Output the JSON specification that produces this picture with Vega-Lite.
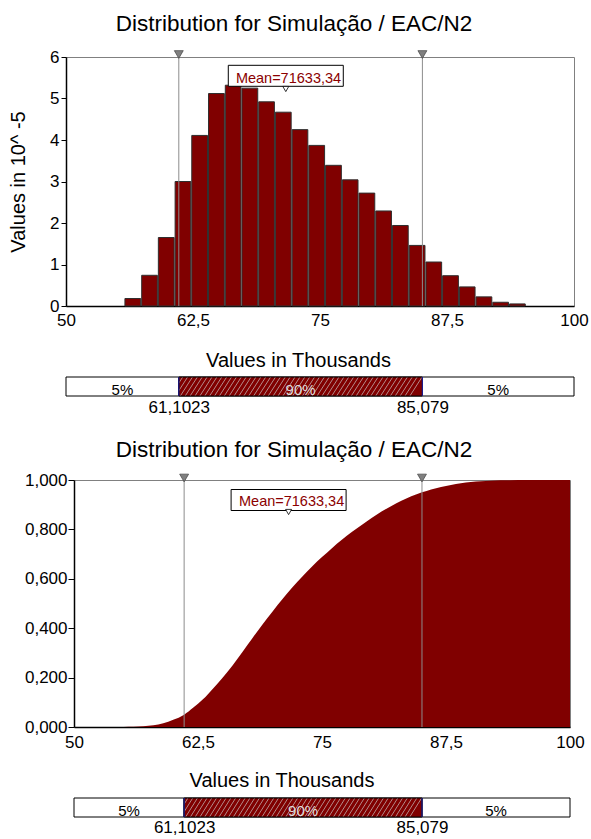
{
  "$schema": "https://vega.github.io/schema/vega-lite/v6.json",
  "background": "white",
  "padding": {"left": 7, "top": 12, "right": 0, "bottom": 0},
  "config": {
    "font": "Liberation Sans",
    "view": {"stroke": "#808080", "strokeWidth": 1},
    "axis": {"grid": false, "labelColor": "#000000", "titleColor": "#000000", "titleFontWeight": "normal", "domainColor": "#000000", "tickColor": "#000000", "labelFont": "Liberation Sans", "titleFont": "Liberation Sans"},
    "title": {"font": "Liberation Sans", "fontWeight": "normal", "color": "#000000", "fontSize": 22.5}
  },
  "datasets": {
    "hist": [
      {"start": 55.80, "end": 57.45, "density": 0.18},
      {"start": 57.45, "end": 59.09, "density": 0.74},
      {"start": 59.09, "end": 60.74, "density": 1.65},
      {"start": 60.74, "end": 62.38, "density": 3.00},
      {"start": 62.38, "end": 64.03, "density": 4.11},
      {"start": 64.03, "end": 65.68, "density": 5.12},
      {"start": 65.68, "end": 67.32, "density": 5.32},
      {"start": 67.32, "end": 68.97, "density": 5.25},
      {"start": 68.97, "end": 70.61, "density": 4.92},
      {"start": 70.61, "end": 72.26, "density": 4.67},
      {"start": 72.26, "end": 73.90, "density": 4.25},
      {"start": 73.90, "end": 75.55, "density": 3.87},
      {"start": 75.55, "end": 77.20, "density": 3.39},
      {"start": 77.20, "end": 78.84, "density": 3.04},
      {"start": 78.84, "end": 80.49, "density": 2.72},
      {"start": 80.49, "end": 82.13, "density": 2.29},
      {"start": 82.13, "end": 83.78, "density": 1.94},
      {"start": 83.78, "end": 85.43, "density": 1.46},
      {"start": 85.43, "end": 87.07, "density": 1.06},
      {"start": 87.07, "end": 88.72, "density": 0.73},
      {"start": 88.72, "end": 90.36, "density": 0.46},
      {"start": 90.36, "end": 92.01, "density": 0.22},
      {"start": 92.01, "end": 93.65, "density": 0.09},
      {"start": 93.65, "end": 95.30, "density": 0.05}
    ],
    "cdf": [
      {"v": 54.0, "p": 0}, {"v": 55, "p": 0.0005}, {"v": 56, "p": 0.001}, {"v": 57, "p": 0.003},
      {"v": 58, "p": 0.007}, {"v": 59, "p": 0.015}, {"v": 60, "p": 0.029}, {"v": 61.1, "p": 0.05},
      {"v": 62, "p": 0.078}, {"v": 63, "p": 0.112}, {"v": 64, "p": 0.155}, {"v": 65, "p": 0.2},
      {"v": 66, "p": 0.25}, {"v": 67, "p": 0.305}, {"v": 68, "p": 0.36}, {"v": 69, "p": 0.415},
      {"v": 70, "p": 0.467}, {"v": 71, "p": 0.517}, {"v": 72, "p": 0.565}, {"v": 73, "p": 0.608},
      {"v": 74, "p": 0.65}, {"v": 75, "p": 0.688}, {"v": 76, "p": 0.724}, {"v": 77, "p": 0.758},
      {"v": 78, "p": 0.789}, {"v": 79, "p": 0.818}, {"v": 80, "p": 0.846}, {"v": 81, "p": 0.872},
      {"v": 82, "p": 0.895}, {"v": 83, "p": 0.916}, {"v": 84, "p": 0.934}, {"v": 85.08, "p": 0.95},
      {"v": 86, "p": 0.962}, {"v": 87, "p": 0.972}, {"v": 88, "p": 0.98}, {"v": 89, "p": 0.987},
      {"v": 90, "p": 0.992}, {"v": 91, "p": 0.995}, {"v": 92, "p": 0.997}, {"v": 93, "p": 0.9985},
      {"v": 94, "p": 0.9993}, {"v": 95.5, "p": 1}, {"v": 100, "p": 1}
    ],
    "markers": [{"value": 61.1023}, {"value": 85.079}],
    "mean": [{"value": 71.63334, "label": "Mean=71633,34"}],
    "pct": [
      {"start": 50, "end": 61.1023, "label": "5%", "part": "low"},
      {"start": 61.1023, "end": 85.079, "label": "90%", "part": "mid"},
      {"start": 85.079, "end": 100, "label": "5%", "part": "high"}
    ]
  },
  "spacing": 23,
  "vconcat": [
    {
      "spacing": 5,
      "vconcat": [
        {
          "width": 508,
          "height": 249,
          "title": {"text": "Distribution for Simulação / EAC/N2", "anchor": "middle", "frame": "group", "dx": -26, "baseline": "alphabetic", "offset": -5},
          "layer": [
            {
              "data": {"name": "hist"},
              "mark": {"type": "rect", "fill": "#800000", "stroke": "#2e2e2e", "strokeWidth": 1, "x2Offset": -1},
              "encoding": {
                "x": {"field": "start", "type": "quantitative", "scale": {"domain": [50, 100], "nice": false, "zero": false},
                  "axis": {"values": [50, 62.5, 75, 87.5, 100], "labelExpr": "replace(toString(datum.value), '.', ',')", "labelFontSize": 17, "labelPadding": 6, "ticks": false, "tickSize": 0, "labelFlush": false, "labelOverlap": false, "domainWidth": 1.5, "title": "Values in Thousands", "titleFontSize": 20, "titleX": 232, "titleY": 60, "titleAlign": "center", "titleBaseline": "alphabetic"}},
                "x2": {"field": "end"},
                "y": {"field": "density", "type": "quantitative", "scale": {"domain": [0, 6], "nice": false},
                  "axis": {"values": [0, 1, 2, 3, 4, 5, 6], "format": "d", "labelFontSize": 17, "labelPadding": 2, "tickSize": 5, "domainWidth": 1.5, "minExtent": 20, "maxExtent": 20, "title": "Values in 10^ -5", "titleFontSize": 20, "titlePadding": 18}},
                "y2": {"datum": 0}
              }
            },
            {
              "data": {"name": "markers"},
              "mark": {"type": "rule", "color": "#8c8c8c", "strokeWidth": 1},
              "encoding": {"x": {"field": "value", "type": "quantitative"}}
            },
            {
              "data": {"name": "markers"},
              "mark": {"type": "point", "shape": "triangle-down", "filled": true, "fill": "#808080", "stroke": "#404040", "strokeWidth": 0.7, "size": 80, "opacity": 1, "yOffset": -2.5},
              "encoding": {"x": {"field": "value", "type": "quantitative"}, "y": {"datum": 6}}
            },
            {
              "data": {"name": "mean"},
              "mark": {"type": "point", "shape": "M-1,-0.1826H1V0.1826H-1Z", "size": 13225, "filled": true, "fill": "#ffffff", "stroke": "#000000", "strokeWidth": 1, "opacity": 1, "yOffset": 18.8},
              "encoding": {"x": {"field": "value", "type": "quantitative"}, "y": {"datum": 6}}
            },
            {
              "data": {"name": "mean"},
              "mark": {"type": "text", "font": "Liberation Sans", "fontSize": 14.5, "color": "#8b0000", "align": "center", "baseline": "alphabetic", "dx": 2.7, "yOffset": 25.5},
              "encoding": {"x": {"field": "value", "type": "quantitative"}, "y": {"datum": 6}, "text": {"field": "label"}}
            },
            {
              "data": {"name": "mean"},
              "mark": {"type": "point", "shape": "triangle-down", "filled": true, "fill": "#ffffff", "stroke": "#000000", "strokeWidth": 0.8, "size": 36, "opacity": 1, "yOffset": 32},
              "encoding": {"x": {"field": "value", "type": "quantitative"}, "y": {"datum": 6}}
            }
          ]
        },
        {
          "width": 508,
          "height": 19,
          "view": {"stroke": null},
          "data": {"name": "pct"},
          "layer": [
            {
              "mark": {"type": "rect", "fill": "#ffffff", "stroke": "#000000", "strokeWidth": 1},
              "encoding": {
                "x": {"field": "start", "type": "quantitative", "scale": {"domain": [50, 100], "nice": false, "zero": false},
                  "axis": {"values": [61.1023, 85.079], "labelExpr": "replace(toString(datum.value), '.', ',')", "labelFontSize": 17, "labelPadding": 3, "ticks": false, "tickSize": 0, "domain": false, "labelFlush": false, "labelOverlap": false, "title": null}},
                "x2": {"field": "end"}
              }
            },
            {
              "transform": [{"filter": "datum.part == 'mid'"}],
              "mark": {"type": "rect", "stroke": "#000000", "strokeWidth": 1, "fill": {"gradient": "linear", "x1": 0, "y1": 0, "x2": 1, "y2": 0.05, "stops": [
                {"offset": 0, "color": "#800000"}, {"offset": 0.012, "color": "#800000"}, {"offset": 0.016, "color": "#b48c8c"},
                {"offset": 0.02, "color": "#800000"}, {"offset": 0.032, "color": "#800000"}, {"offset": 0.036, "color": "#b48c8c"},
                {"offset": 0.04, "color": "#800000"}, {"offset": 0.052, "color": "#800000"}, {"offset": 0.056, "color": "#b48c8c"},
                {"offset": 0.06, "color": "#800000"}, {"offset": 0.072, "color": "#800000"}, {"offset": 0.076, "color": "#b48c8c"},
                {"offset": 0.08, "color": "#800000"}, {"offset": 0.092, "color": "#800000"}, {"offset": 0.096, "color": "#b48c8c"},
                {"offset": 0.1, "color": "#800000"}, {"offset": 0.112, "color": "#800000"}, {"offset": 0.116, "color": "#b48c8c"},
                {"offset": 0.12, "color": "#800000"}, {"offset": 0.132, "color": "#800000"}, {"offset": 0.136, "color": "#b48c8c"},
                {"offset": 0.14, "color": "#800000"}, {"offset": 0.152, "color": "#800000"}, {"offset": 0.156, "color": "#b48c8c"},
                {"offset": 0.16, "color": "#800000"}, {"offset": 0.172, "color": "#800000"}, {"offset": 0.176, "color": "#b48c8c"},
                {"offset": 0.18, "color": "#800000"}, {"offset": 0.192, "color": "#800000"}, {"offset": 0.196, "color": "#b48c8c"},
                {"offset": 0.2, "color": "#800000"}, {"offset": 0.212, "color": "#800000"}, {"offset": 0.216, "color": "#b48c8c"},
                {"offset": 0.22, "color": "#800000"}, {"offset": 0.232, "color": "#800000"}, {"offset": 0.236, "color": "#b48c8c"},
                {"offset": 0.24, "color": "#800000"}, {"offset": 0.252, "color": "#800000"}, {"offset": 0.256, "color": "#b48c8c"},
                {"offset": 0.26, "color": "#800000"}, {"offset": 0.272, "color": "#800000"}, {"offset": 0.276, "color": "#b48c8c"},
                {"offset": 0.28, "color": "#800000"}, {"offset": 0.292, "color": "#800000"}, {"offset": 0.296, "color": "#b48c8c"},
                {"offset": 0.3, "color": "#800000"}, {"offset": 0.312, "color": "#800000"}, {"offset": 0.316, "color": "#b48c8c"},
                {"offset": 0.32, "color": "#800000"}, {"offset": 0.332, "color": "#800000"}, {"offset": 0.336, "color": "#b48c8c"},
                {"offset": 0.34, "color": "#800000"}, {"offset": 0.352, "color": "#800000"}, {"offset": 0.356, "color": "#b48c8c"},
                {"offset": 0.36, "color": "#800000"}, {"offset": 0.372, "color": "#800000"}, {"offset": 0.376, "color": "#b48c8c"},
                {"offset": 0.38, "color": "#800000"}, {"offset": 0.392, "color": "#800000"}, {"offset": 0.396, "color": "#b48c8c"},
                {"offset": 0.4, "color": "#800000"}, {"offset": 0.412, "color": "#800000"}, {"offset": 0.416, "color": "#b48c8c"},
                {"offset": 0.42, "color": "#800000"}, {"offset": 0.432, "color": "#800000"}, {"offset": 0.436, "color": "#b48c8c"},
                {"offset": 0.44, "color": "#800000"}, {"offset": 0.452, "color": "#800000"}, {"offset": 0.456, "color": "#b48c8c"},
                {"offset": 0.46, "color": "#800000"}, {"offset": 0.472, "color": "#800000"}, {"offset": 0.476, "color": "#b48c8c"},
                {"offset": 0.48, "color": "#800000"}, {"offset": 0.492, "color": "#800000"}, {"offset": 0.496, "color": "#b48c8c"},
                {"offset": 0.5, "color": "#800000"}, {"offset": 0.512, "color": "#800000"}, {"offset": 0.516, "color": "#b48c8c"},
                {"offset": 0.52, "color": "#800000"}, {"offset": 0.532, "color": "#800000"}, {"offset": 0.536, "color": "#b48c8c"},
                {"offset": 0.54, "color": "#800000"}, {"offset": 0.552, "color": "#800000"}, {"offset": 0.556, "color": "#b48c8c"},
                {"offset": 0.56, "color": "#800000"}, {"offset": 0.572, "color": "#800000"}, {"offset": 0.576, "color": "#b48c8c"},
                {"offset": 0.58, "color": "#800000"}, {"offset": 0.592, "color": "#800000"}, {"offset": 0.596, "color": "#b48c8c"},
                {"offset": 0.6, "color": "#800000"}, {"offset": 0.612, "color": "#800000"}, {"offset": 0.616, "color": "#b48c8c"},
                {"offset": 0.62, "color": "#800000"}, {"offset": 0.632, "color": "#800000"}, {"offset": 0.636, "color": "#b48c8c"},
                {"offset": 0.64, "color": "#800000"}, {"offset": 0.652, "color": "#800000"}, {"offset": 0.656, "color": "#b48c8c"},
                {"offset": 0.66, "color": "#800000"}, {"offset": 0.672, "color": "#800000"}, {"offset": 0.676, "color": "#b48c8c"},
                {"offset": 0.68, "color": "#800000"}, {"offset": 0.692, "color": "#800000"}, {"offset": 0.696, "color": "#b48c8c"},
                {"offset": 0.7, "color": "#800000"}, {"offset": 0.712, "color": "#800000"}, {"offset": 0.716, "color": "#b48c8c"},
                {"offset": 0.72, "color": "#800000"}, {"offset": 0.732, "color": "#800000"}, {"offset": 0.736, "color": "#b48c8c"},
                {"offset": 0.74, "color": "#800000"}, {"offset": 0.752, "color": "#800000"}, {"offset": 0.756, "color": "#b48c8c"},
                {"offset": 0.76, "color": "#800000"}, {"offset": 0.772, "color": "#800000"}, {"offset": 0.776, "color": "#b48c8c"},
                {"offset": 0.78, "color": "#800000"}, {"offset": 0.792, "color": "#800000"}, {"offset": 0.796, "color": "#b48c8c"},
                {"offset": 0.8, "color": "#800000"}, {"offset": 0.812, "color": "#800000"}, {"offset": 0.816, "color": "#b48c8c"},
                {"offset": 0.82, "color": "#800000"}, {"offset": 0.832, "color": "#800000"}, {"offset": 0.836, "color": "#b48c8c"},
                {"offset": 0.84, "color": "#800000"}, {"offset": 0.852, "color": "#800000"}, {"offset": 0.856, "color": "#b48c8c"},
                {"offset": 0.86, "color": "#800000"}, {"offset": 0.872, "color": "#800000"}, {"offset": 0.876, "color": "#b48c8c"},
                {"offset": 0.88, "color": "#800000"}, {"offset": 0.892, "color": "#800000"}, {"offset": 0.896, "color": "#b48c8c"},
                {"offset": 0.9, "color": "#800000"}, {"offset": 0.912, "color": "#800000"}, {"offset": 0.916, "color": "#b48c8c"},
                {"offset": 0.92, "color": "#800000"}, {"offset": 0.932, "color": "#800000"}, {"offset": 0.936, "color": "#b48c8c"},
                {"offset": 0.94, "color": "#800000"}, {"offset": 0.952, "color": "#800000"}, {"offset": 0.956, "color": "#b48c8c"},
                {"offset": 0.96, "color": "#800000"}, {"offset": 0.972, "color": "#800000"}, {"offset": 0.976, "color": "#b48c8c"},
                {"offset": 0.98, "color": "#800000"}, {"offset": 0.992, "color": "#800000"}, {"offset": 0.996, "color": "#b48c8c"},
                {"offset": 1, "color": "#800000"}
              ]}},
              "encoding": {"x": {"field": "start", "type": "quantitative"}, "x2": {"field": "end"}}
            },
            {
              "data": {"name": "markers"},
              "mark": {"type": "rule", "color": "#1a1a8c", "strokeWidth": 1.2},
              "encoding": {"x": {"field": "value", "type": "quantitative"}}
            },
            {
              "transform": [{"calculate": "(datum.start + datum.end) / 2", "as": "mid"}],
              "mark": {"type": "text", "fontSize": 15, "baseline": "middle", "dy": 3},
              "encoding": {
                "x": {"field": "mid", "type": "quantitative"},
                "text": {"field": "label"},
                "color": {"field": "part", "type": "nominal", "scale": {"domain": ["low", "mid", "high"], "range": ["#000000", "#dddddd", "#000000"]}, "legend": null}
              }
            }
          ]
        }
      ]
    },
    {
      "spacing": 7,
      "bounds": "flush",
      "hconcat": [
        {
          "width": 1,
          "height": 1,
          "view": {"stroke": null},
          "data": {"values": [{"a": 0}]},
          "mark": {"type": "point", "opacity": 0}
        },
        {
          "spacing": 6,
          "vconcat": [
            {
              "width": 496,
              "height": 247,
              "title": {"text": "Distribution for Simulação / EAC/N2", "anchor": "middle", "frame": "group", "dx": -28, "baseline": "alphabetic", "offset": -8},
              "layer": [
                {
                  "data": {"name": "cdf"},
                  "mark": {"type": "area", "fill": "#800000", "interpolate": "monotone"},
                  "encoding": {
                    "x": {"field": "v", "type": "quantitative", "scale": {"domain": [50, 100], "nice": false, "zero": false},
                      "axis": {"values": [50, 62.5, 75, 87.5, 100], "labelExpr": "replace(toString(datum.value), '.', ',')", "labelFontSize": 17, "labelPadding": 7.5, "ticks": false, "tickSize": 0, "labelFlush": false, "labelOverlap": false, "domainWidth": 1.5, "title": "Values in Thousands", "titleFontSize": 20, "titleX": 207.5, "titleY": 59, "titleAlign": "center", "titleBaseline": "alphabetic"}},
                    "y": {"field": "p", "type": "quantitative", "scale": {"domain": [0, 1], "nice": false},
                      "axis": {"values": [0, 0.2, 0.4, 0.6, 0.8, 1], "labelExpr": "replace(format(datum.value, '.3f'), '.', ',')", "labelFontSize": 17, "labelPadding": 1, "tickSize": 6, "domainWidth": 1.5, "title": null}}
                  }
                },
                {
                  "data": {"name": "markers"},
                  "mark": {"type": "rule", "color": "#8c8c8c", "strokeWidth": 1},
                  "encoding": {"x": {"field": "value", "type": "quantitative"}}
                },
                {
                  "data": {"name": "markers"},
                  "mark": {"type": "point", "shape": "triangle-down", "filled": true, "fill": "#808080", "stroke": "#404040", "strokeWidth": 0.7, "size": 80, "opacity": 1, "yOffset": -2},
                  "encoding": {"x": {"field": "value", "type": "quantitative"}, "y": {"datum": 1}}
                },
                {
                  "data": {"name": "mean"},
                  "mark": {"type": "point", "shape": "M-1,-0.1826H1V0.1826H-1Z", "size": 13225, "filled": true, "fill": "#ffffff", "stroke": "#000000", "strokeWidth": 1, "opacity": 1, "yOffset": 20},
                  "encoding": {"x": {"field": "value", "type": "quantitative"}, "y": {"datum": 1}}
                },
                {
                  "data": {"name": "mean"},
                  "mark": {"type": "text", "font": "Liberation Sans", "fontSize": 14.5, "color": "#8b0000", "align": "center", "baseline": "alphabetic", "dx": 3, "yOffset": 25.7},
                  "encoding": {"x": {"field": "value", "type": "quantitative"}, "y": {"datum": 1}, "text": {"field": "label"}}
                },
                {
                  "data": {"name": "mean"},
                  "mark": {"type": "point", "shape": "triangle-down", "filled": true, "fill": "#ffffff", "stroke": "#000000", "strokeWidth": 0.8, "size": 36, "opacity": 1, "yOffset": 32},
                  "encoding": {"x": {"field": "value", "type": "quantitative"}, "y": {"datum": 1}}
                }
              ]
            },
            {
              "width": 496,
              "height": 19,
              "view": {"stroke": null},
              "data": {"name": "pct"},
              "layer": [
                {
                  "mark": {"type": "rect", "fill": "#ffffff", "stroke": "#000000", "strokeWidth": 1},
                  "encoding": {
                    "x": {"field": "start", "type": "quantitative", "scale": {"domain": [50, 100], "nice": false, "zero": false},
                      "axis": {"values": [61.1023, 85.079], "labelExpr": "replace(toString(datum.value), '.', ',')", "labelFontSize": 17, "labelPadding": 2, "ticks": false, "tickSize": 0, "domain": false, "labelFlush": false, "labelOverlap": false, "title": null}},
                    "x2": {"field": "end"}
                  }
                },
                {
                  "transform": [{"filter": "datum.part == 'mid'"}],
                  "mark": {"type": "rect", "stroke": "#000000", "strokeWidth": 1, "fill": {"gradient": "linear", "x1": 0, "y1": 0, "x2": 1, "y2": 0.05, "stops": [
                    {"offset": 0, "color": "#800000"}, {"offset": 0.012, "color": "#800000"}, {"offset": 0.016, "color": "#b48c8c"},
                    {"offset": 0.02, "color": "#800000"}, {"offset": 0.032, "color": "#800000"}, {"offset": 0.036, "color": "#b48c8c"},
                    {"offset": 0.04, "color": "#800000"}, {"offset": 0.052, "color": "#800000"}, {"offset": 0.056, "color": "#b48c8c"},
                    {"offset": 0.06, "color": "#800000"}, {"offset": 0.072, "color": "#800000"}, {"offset": 0.076, "color": "#b48c8c"},
                    {"offset": 0.08, "color": "#800000"}, {"offset": 0.092, "color": "#800000"}, {"offset": 0.096, "color": "#b48c8c"},
                    {"offset": 0.1, "color": "#800000"}, {"offset": 0.112, "color": "#800000"}, {"offset": 0.116, "color": "#b48c8c"},
                    {"offset": 0.12, "color": "#800000"}, {"offset": 0.132, "color": "#800000"}, {"offset": 0.136, "color": "#b48c8c"},
                    {"offset": 0.14, "color": "#800000"}, {"offset": 0.152, "color": "#800000"}, {"offset": 0.156, "color": "#b48c8c"},
                    {"offset": 0.16, "color": "#800000"}, {"offset": 0.172, "color": "#800000"}, {"offset": 0.176, "color": "#b48c8c"},
                    {"offset": 0.18, "color": "#800000"}, {"offset": 0.192, "color": "#800000"}, {"offset": 0.196, "color": "#b48c8c"},
                    {"offset": 0.2, "color": "#800000"}, {"offset": 0.212, "color": "#800000"}, {"offset": 0.216, "color": "#b48c8c"},
                    {"offset": 0.22, "color": "#800000"}, {"offset": 0.232, "color": "#800000"}, {"offset": 0.236, "color": "#b48c8c"},
                    {"offset": 0.24, "color": "#800000"}, {"offset": 0.252, "color": "#800000"}, {"offset": 0.256, "color": "#b48c8c"},
                    {"offset": 0.26, "color": "#800000"}, {"offset": 0.272, "color": "#800000"}, {"offset": 0.276, "color": "#b48c8c"},
                    {"offset": 0.28, "color": "#800000"}, {"offset": 0.292, "color": "#800000"}, {"offset": 0.296, "color": "#b48c8c"},
                    {"offset": 0.3, "color": "#800000"}, {"offset": 0.312, "color": "#800000"}, {"offset": 0.316, "color": "#b48c8c"},
                    {"offset": 0.32, "color": "#800000"}, {"offset": 0.332, "color": "#800000"}, {"offset": 0.336, "color": "#b48c8c"},
                    {"offset": 0.34, "color": "#800000"}, {"offset": 0.352, "color": "#800000"}, {"offset": 0.356, "color": "#b48c8c"},
                    {"offset": 0.36, "color": "#800000"}, {"offset": 0.372, "color": "#800000"}, {"offset": 0.376, "color": "#b48c8c"},
                    {"offset": 0.38, "color": "#800000"}, {"offset": 0.392, "color": "#800000"}, {"offset": 0.396, "color": "#b48c8c"},
                    {"offset": 0.4, "color": "#800000"}, {"offset": 0.412, "color": "#800000"}, {"offset": 0.416, "color": "#b48c8c"},
                    {"offset": 0.42, "color": "#800000"}, {"offset": 0.432, "color": "#800000"}, {"offset": 0.436, "color": "#b48c8c"},
                    {"offset": 0.44, "color": "#800000"}, {"offset": 0.452, "color": "#800000"}, {"offset": 0.456, "color": "#b48c8c"},
                    {"offset": 0.46, "color": "#800000"}, {"offset": 0.472, "color": "#800000"}, {"offset": 0.476, "color": "#b48c8c"},
                    {"offset": 0.48, "color": "#800000"}, {"offset": 0.492, "color": "#800000"}, {"offset": 0.496, "color": "#b48c8c"},
                    {"offset": 0.5, "color": "#800000"}, {"offset": 0.512, "color": "#800000"}, {"offset": 0.516, "color": "#b48c8c"},
                    {"offset": 0.52, "color": "#800000"}, {"offset": 0.532, "color": "#800000"}, {"offset": 0.536, "color": "#b48c8c"},
                    {"offset": 0.54, "color": "#800000"}, {"offset": 0.552, "color": "#800000"}, {"offset": 0.556, "color": "#b48c8c"},
                    {"offset": 0.56, "color": "#800000"}, {"offset": 0.572, "color": "#800000"}, {"offset": 0.576, "color": "#b48c8c"},
                    {"offset": 0.58, "color": "#800000"}, {"offset": 0.592, "color": "#800000"}, {"offset": 0.596, "color": "#b48c8c"},
                    {"offset": 0.6, "color": "#800000"}, {"offset": 0.612, "color": "#800000"}, {"offset": 0.616, "color": "#b48c8c"},
                    {"offset": 0.62, "color": "#800000"}, {"offset": 0.632, "color": "#800000"}, {"offset": 0.636, "color": "#b48c8c"},
                    {"offset": 0.64, "color": "#800000"}, {"offset": 0.652, "color": "#800000"}, {"offset": 0.656, "color": "#b48c8c"},
                    {"offset": 0.66, "color": "#800000"}, {"offset": 0.672, "color": "#800000"}, {"offset": 0.676, "color": "#b48c8c"},
                    {"offset": 0.68, "color": "#800000"}, {"offset": 0.692, "color": "#800000"}, {"offset": 0.696, "color": "#b48c8c"},
                    {"offset": 0.7, "color": "#800000"}, {"offset": 0.712, "color": "#800000"}, {"offset": 0.716, "color": "#b48c8c"},
                    {"offset": 0.72, "color": "#800000"}, {"offset": 0.732, "color": "#800000"}, {"offset": 0.736, "color": "#b48c8c"},
                    {"offset": 0.74, "color": "#800000"}, {"offset": 0.752, "color": "#800000"}, {"offset": 0.756, "color": "#b48c8c"},
                    {"offset": 0.76, "color": "#800000"}, {"offset": 0.772, "color": "#800000"}, {"offset": 0.776, "color": "#b48c8c"},
                    {"offset": 0.78, "color": "#800000"}, {"offset": 0.792, "color": "#800000"}, {"offset": 0.796, "color": "#b48c8c"},
                    {"offset": 0.8, "color": "#800000"}, {"offset": 0.812, "color": "#800000"}, {"offset": 0.816, "color": "#b48c8c"},
                    {"offset": 0.82, "color": "#800000"}, {"offset": 0.832, "color": "#800000"}, {"offset": 0.836, "color": "#b48c8c"},
                    {"offset": 0.84, "color": "#800000"}, {"offset": 0.852, "color": "#800000"}, {"offset": 0.856, "color": "#b48c8c"},
                    {"offset": 0.86, "color": "#800000"}, {"offset": 0.872, "color": "#800000"}, {"offset": 0.876, "color": "#b48c8c"},
                    {"offset": 0.88, "color": "#800000"}, {"offset": 0.892, "color": "#800000"}, {"offset": 0.896, "color": "#b48c8c"},
                    {"offset": 0.9, "color": "#800000"}, {"offset": 0.912, "color": "#800000"}, {"offset": 0.916, "color": "#b48c8c"},
                    {"offset": 0.92, "color": "#800000"}, {"offset": 0.932, "color": "#800000"}, {"offset": 0.936, "color": "#b48c8c"},
                    {"offset": 0.94, "color": "#800000"}, {"offset": 0.952, "color": "#800000"}, {"offset": 0.956, "color": "#b48c8c"},
                    {"offset": 0.96, "color": "#800000"}, {"offset": 0.972, "color": "#800000"}, {"offset": 0.976, "color": "#b48c8c"},
                    {"offset": 0.98, "color": "#800000"}, {"offset": 0.992, "color": "#800000"}, {"offset": 0.996, "color": "#b48c8c"},
                    {"offset": 1, "color": "#800000"}
                  ]}},
                  "encoding": {"x": {"field": "start", "type": "quantitative"}, "x2": {"field": "end"}}
                },
                {
                  "data": {"name": "markers"},
                  "mark": {"type": "rule", "color": "#1a1a8c", "strokeWidth": 1.2},
                  "encoding": {"x": {"field": "value", "type": "quantitative"}}
                },
                {
                  "transform": [{"calculate": "(datum.start + datum.end) / 2", "as": "mid"}],
                  "mark": {"type": "text", "fontSize": 15, "baseline": "middle", "dy": 3},
                  "encoding": {
                    "x": {"field": "mid", "type": "quantitative"},
                    "text": {"field": "label"},
                    "color": {"field": "part", "type": "nominal", "scale": {"domain": ["low", "mid", "high"], "range": ["#000000", "#dddddd", "#000000"]}, "legend": null}
                  }
                }
              ]
            }
          ]
        }
      ]
    }
  ]
}
